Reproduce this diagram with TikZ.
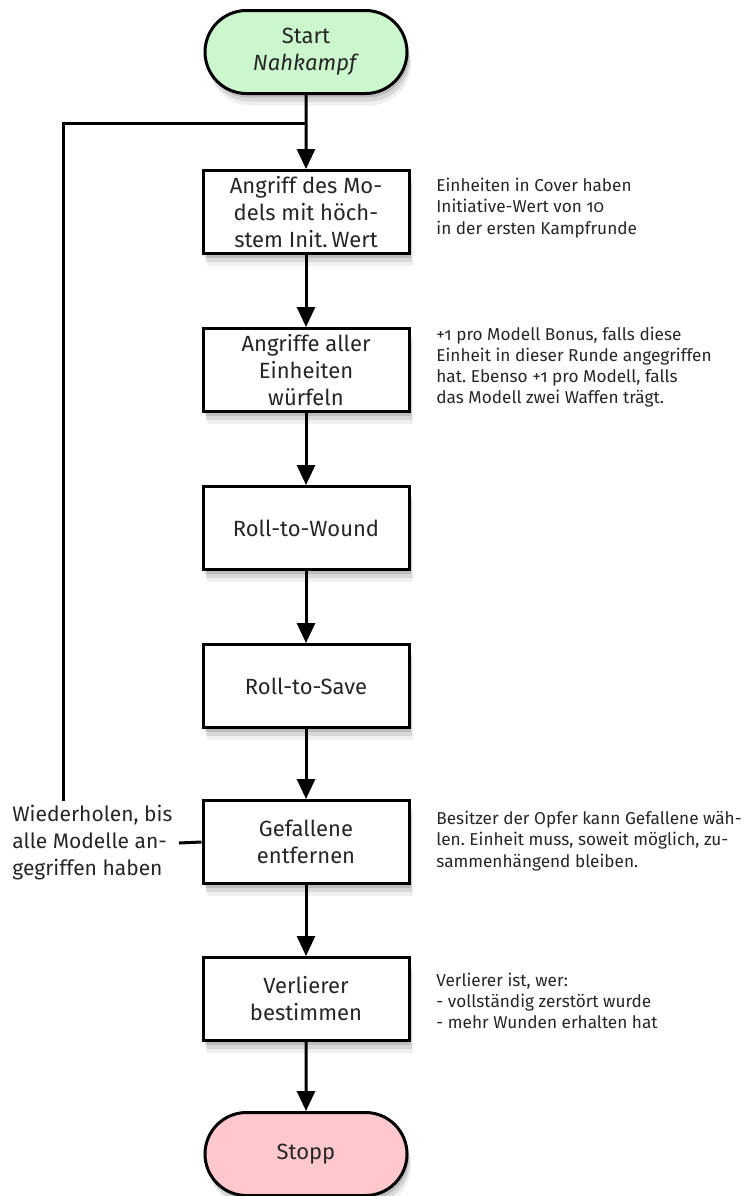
\documentclass[tikz,border=0pt]{standalone}
\usepackage{fontspec}
\setmainfont[Numbers=OldStyle]{Fira Sans}
\frenchspacing
\usetikzlibrary{arrows.meta,shapes.misc,shadows}
\definecolor{startgruen}{HTML}{CCF7CC}
\definecolor{stopprot}{HTML}{FFC8CC}
\definecolor{schrift}{HTML}{262626}
\newcommand{\boxfont}   {\fontsize{11}{13.5}\selectfont}
\newcommand{\notizfont} {\fontsize{8.6}{10.6}\selectfont}

\tikzset{
  schatten/.style={drop shadow={shadow xshift=1pt,shadow yshift=-2pt,opacity=0.12,fill=black},
                   drop shadow={shadow xshift=1.5pt,shadow yshift=-4pt,opacity=0.10,fill=black},
                   drop shadow={shadow xshift=2pt,shadow yshift=-6pt,opacity=0.06,fill=black}},
  schritt/.style={draw,line width=1.5pt,fill=white,schatten,minimum width=103pt,
                  minimum height=41.5pt,align=center,font=\boxfont,text=schrift,inner sep=1pt},
  ende/.style={schritt,rounded rectangle,minimum width=103pt},
  notiz/.style={anchor=west,align=left,font=\notizfont,text=schrift,inner sep=0pt},
  linie/.style={line width=1.5pt},
  pfeil/.style={linie,-{Triangle[length=10pt,width=9pt]}}
}

\begin{document}
\begin{tikzpicture}[x=0.5pt,y=-0.5pt]
    \useasboundingbox (0,0) rectangle (753,1196);
    % Ablauf
    \node[ende,fill=startgruen] (start) at (306,52)   {Start\\\textit{Nahkampf}};
    \node[schritt]              (init)  at (306,212)  {Angriff des Mo-\\dels mit höch-\\stem Init.\,Wert};
    \node[schritt]              (wurf)  at (306,370)  {Angriffe aller\\Einheiten\\würfeln};
    \node[schritt]              (wound) at (306,528)  {Roll-to-Wound};
    \node[schritt]              (save)  at (306,686)  {Roll-to-Save};
    \node[schritt]              (gef)   at (306,842)  {Gefallene\\entfernen};
    \node[schritt]              (verl)  at (306,999)  {Verlierer\\bestimmen};
    \node[ende,fill=stopprot]   (stopp) at (306,1154) {Stopp};
    % Notizen
    \node[notiz] (n1) at (436,208)  {Einheiten in Cover haben\\Initiative-Wert von 10\\in der ersten Kampfrunde};
    \node[notiz] (n2) at (436,367)  {+1 pro Modell Bonus, falls diese\\Einheit in dieser Runde angegriffen\\hat. Ebenso +1 pro Modell, falls\\das Modell zwei Waffen trägt.};
    \node[notiz] (n3) at (436,841)  {Besitzer der Opfer kann Gefallene wäh-\\len. Einheit muss, soweit möglich, zu-\\sammenhängend bleiben.};
    \node[notiz] (n4) at (436,1001) {Verlierer ist, wer:\\- vollständig zerstört wurde\\- mehr Wunden erhalten hat};
    \node[anchor=west,align=left,font=\fontsize{10.5}{13.5}\selectfont,text=schrift,inner sep=0pt] (wdh) at (12,843)
        {Wiederholen, bis\\alle Modelle an-\\gegriffen haben};
    % Verbindungen
    \coordinate (knick) at (63,123);
    \draw[pfeil] (start) -- (init);
    \draw[pfeil] (init)  -- (wurf);
    \draw[pfeil] (wurf)  -- (wound);
    \draw[pfeil] (wound) -- (save);
    \draw[pfeil] (save)  -- (gef);
    \draw[pfeil] (gef)   -- (verl);
    \draw[pfeil] (verl)  -- (stopp);
    \draw[linie] ([xshift=3pt]wdh.east) -- (gef.west);
    \draw[linie] ([yshift=2pt]wdh.north -| knick) -- (knick) -- (start.south |- knick);
\end{tikzpicture}
\end{document}
